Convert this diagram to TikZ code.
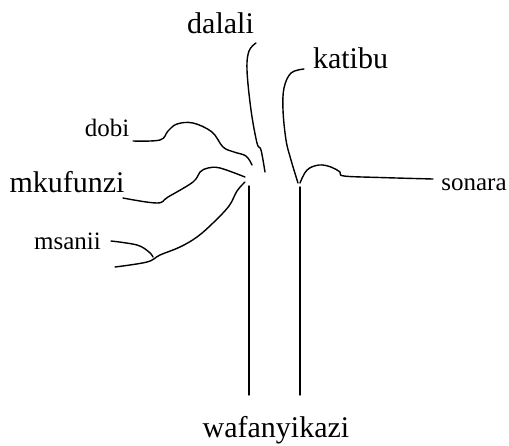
\documentclass[tikz,border=0pt]{standalone}
\usepackage{fontspec}
\setmainfont{Liberation Serif}
\begin{document}
\begin{tikzpicture}[x=1pt,y=-1pt,
  big/.style={anchor=base,font=\fontsize{30}{34}\selectfont,inner sep=0pt},
  small/.style={anchor=base,font=\fontsize{25}{29}\selectfont,inner sep=0pt},
  stroke/.style={line width=1.4pt,line cap=round,line join=round}]
\useasboundingbox (0,0) rectangle (509,445);
% labels
\node[big] (dalali) at (220.5,33) {dalali};
\node[big] (katibu) at (350.5,68) {katibu};
\node[small] (dobi) at (107,136) {dobi};
\node[big] (mkufunzi) at (67,192) {mkufunzi};
\node[small] (msanii) at (67.5,249) {msanii};
\node[small] (sonara) at (474,190) {sonara};
\node[big] (wafanyikazi) at (276,437) {wafanyikazi};
% trunk
\coordinate (lt) at (249,186);
\coordinate (lb) at (249,395);
\coordinate (rt) at (300,187);
\coordinate (rb) at (300,395);
\draw[stroke] (lt) -- (lb);
\draw[stroke] (rt) -- (rb);
% dalali branch
\draw[stroke] plot[smooth,tension=0.6] coordinates {(256,43) (249,51) (247,70) (251,110) (257,143) (261,150) (265,172)};
% katibu branch
\draw[stroke] plot[smooth,tension=0.6] coordinates {(304,69) (291,73) (284,88) (283,110) (286,140) (291,160) (298,183)};
% sonara branch
\draw[stroke] plot[smooth,tension=0.6] coordinates {(300,183) (307,170) (319,165) (331,167) (340,172) (344,176) (380,177.5) (433,179)};
% dobi branch
\draw[stroke] plot[smooth,tension=0.6] coordinates {(133,141) (160,140) (168,131) (177,124) (193,123) (212,132) (223,147) (234,152) (246,156) (252,165)};
% mkufunzi branch
\draw[stroke] plot[smooth,tension=0.6] coordinates {(123,198) (157,203) (168,197) (193,182) (200,172) (208,168) (220,168) (245,177)};
% msanii branches
\draw[stroke] plot[smooth,tension=0.6] coordinates {(111,241) (137,245) (149,252) (153,257)};
\draw[stroke] plot[smooth,tension=0.6] coordinates {(115,267) (147,262) (160,255) (180,247) (197,237) (213,223) (229,206) (237,191) (245,182)};
\end{tikzpicture}
\end{document}
